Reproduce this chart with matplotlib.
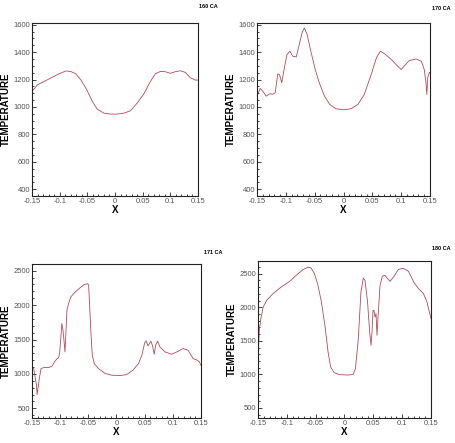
import matplotlib
matplotlib.use('Agg')
import matplotlib.pyplot as plt
from matplotlib.ticker import MultipleLocator
import numpy as np

plt.rcParams['font.family'] = ['Liberation Sans', 'DejaVu Sans']

# 160 CA
x160 = [-0.150, -0.140, -0.128, -0.116, -0.101, -0.089, -0.080, -0.071, -0.062, -0.051,
        -0.041, -0.032, -0.020, -0.008, 0.004, 0.016, 0.028, 0.040, 0.052, 0.064,
        0.073, 0.082, 0.091, 0.100, 0.109, 0.118, 0.127, 0.136, 0.145, 0.150]
t160 = [1113, 1162, 1186, 1211, 1242, 1262, 1259, 1242, 1199, 1126,
        1040, 984, 955, 948, 948, 955, 972, 1028, 1094, 1186,
        1242, 1259, 1257, 1245, 1257, 1264, 1252, 1213, 1196, 1196]

# 170 CA
x170 = [-0.150, -0.1445, -0.140, -0.134, -0.128, -0.1225, -0.1185, -0.114, -0.111, -0.107,
        -0.102, -0.098, -0.093, -0.088, -0.082, -0.076, -0.072, -0.068, -0.063, -0.056,
        -0.049, -0.042, -0.033, -0.024, -0.013, 0.0, 0.013, 0.025, 0.036, 0.048,
        0.057, 0.064, 0.071, 0.083, 0.094, 0.100, 0.106, 0.114, 0.126, 0.135,
        0.140, 0.143, 0.1445, 0.146, 0.149, 0.150]
t170 = [1079, 1135, 1115, 1079, 1096, 1093, 1103, 1241, 1236, 1176,
        1297, 1382, 1406, 1370, 1365, 1467, 1539, 1576, 1527, 1394,
        1273, 1176, 1079, 1018, 987, 979, 987, 1018, 1091, 1236,
        1358, 1406, 1389, 1345, 1297, 1273, 1302, 1338, 1350, 1333,
        1273, 1176, 1091, 1212, 1253, 1248]

# 171 CA
x171 = [-0.150, -0.147, -0.1445, -0.142, -0.141, -0.139, -0.137, -0.134, -0.129, -0.120,
        -0.114, -0.110, -0.106, -0.103, -0.101, -0.0985, -0.097, -0.095, -0.093, -0.0915,
        -0.090, -0.088, -0.085, -0.081, -0.073, -0.064, -0.057, -0.051, -0.0495, -0.048,
        -0.0455, -0.043, -0.0395, -0.032, -0.020, -0.008, 0.0065, 0.018, 0.029, 0.039,
        0.045, 0.050, 0.0525, 0.056, 0.061, 0.064, 0.067, 0.0695, 0.073, 0.077,
        0.086, 0.098, 0.107, 0.1185, 0.127, 0.136, 0.1435, 0.147, 0.150]
t171 = [1092, 1078, 956, 835, 699, 811, 932, 1078, 1092, 1092,
        1117, 1175, 1218, 1233, 1296, 1563, 1733, 1636, 1466, 1320,
        1563, 1927, 2024, 2121, 2194, 2257, 2301, 2311, 2291, 2049,
        1612, 1272, 1150, 1078, 1005, 981, 976, 990, 1053, 1150,
        1272, 1451, 1481, 1408, 1476, 1408, 1286, 1417, 1476, 1393,
        1320, 1286, 1320, 1369, 1345, 1223, 1199, 1175, 1126]

# 180 CA
x180 = [-0.1500, -0.1495, -0.148, -0.145, -0.141, -0.135, -0.124, -0.110, -0.095, -0.084,
        -0.072, -0.063, -0.058, -0.052, -0.046, -0.040, -0.034, -0.0285, -0.024, -0.018,
        -0.008, 0.0064, 0.015, 0.019, 0.024, 0.0285, 0.0326, 0.0355, 0.040, 0.0436,
        0.046, 0.0477, 0.0494, 0.051, 0.053, 0.0547, 0.0564, 0.058, 0.0616, 0.0657,
        0.070, 0.076, 0.079, 0.085, 0.0936, 0.102, 0.111, 0.120, 0.1285, 0.137,
        0.143, 0.150]
t180 = [986, 1284, 1632, 1830, 2004, 2103, 2202, 2301, 2386, 2475,
        2560, 2599, 2584, 2500, 2326, 2078, 1731, 1334, 1110, 1026,
        996, 991, 1001, 1086, 1532, 2227, 2435, 2401, 2078, 1632,
        1433, 1632, 1954, 1954, 1855, 1904, 1582, 1830, 2326, 2465,
        2475, 2416, 2386, 2450, 2565, 2579, 2535, 2376, 2277, 2202,
        2078, 1830]

titles = ['160 CA', '170 CA', '171 CA', '180 CA']
xticks = [-0.15, -0.1, -0.05, 0, 0.05, 0.1, 0.15]
xticklabels = ['-0.15', '-0.1', '-0.05', '0', '0.05', '0.1', '0.15']

fig = plt.figure(figsize=(4.56, 4.43), dpi=100)

panels = [
    (x160, t160, [32/456, 1-196/443, 166/456, 173/443], (351, 1612), 200, 50, (208/456, 1-4.5/443)),
    (x170, t170, [257/456, 1-196/443, 173/456, 173/443], (351, 1612), 200, 50, (441/456, 1-5.5/443)),
    (x171, t171, [32/456, 1-418/443, 169/456, 154/443], (359, 2598), 500, 100, (213/456, 1-250/443)),
    (x180, t180, [258/456, 1-418/443, 173/456, 157/443], (351, 2689), 500, 100, (441/456, 1-245.5/443)),
]

line_color = '#b04a5c'
grey = '#555555'

for (xs, ts, pos, ylim, ymaj, ymin, tpos), title in zip(panels, titles):
    ax = fig.add_axes(pos)
    ax.plot(xs, ts, color=line_color, lw=0.6)
    ax.set_xlim(-0.15, 0.15)
    ax.set_ylim(*ylim)
    ax.set_xticks(xticks)
    ax.set_xticklabels(xticklabels)
    ax.xaxis.set_minor_locator(MultipleLocator(0.01))
    ax.yaxis.set_major_locator(MultipleLocator(ymaj))
    ax.yaxis.set_minor_locator(MultipleLocator(ymin))
    ax.tick_params(which='both', direction='in', top=False, right=False,
                   labelsize=5.5, labelcolor=grey, color='#222222', width=0.6, pad=1.5)
    ax.tick_params(which='major', length=3)
    ax.tick_params(which='minor', length=1.5)
    for s in ax.spines.values():
        s.set_linewidth(0.8)
        s.set_color('#222222')
    ax.set_xlabel('X', fontsize=7, fontweight='bold', labelpad=0)
    ax.set_ylabel('TEMPERATURE', fontsize=7, fontweight='bold', labelpad=1.5)
    fig.text(tpos[0], tpos[1], title, fontsize=4, fontweight='bold', ha='center', va='top')

fig.savefig('out.png', dpi=100)
